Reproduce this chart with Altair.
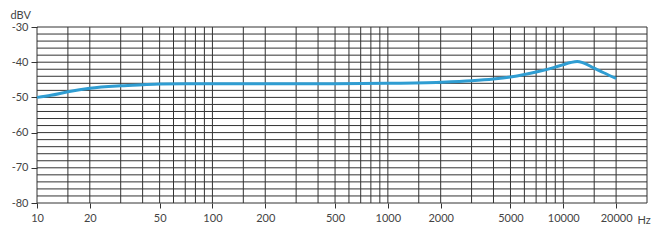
import altair as alt
import pandas as pd

# Frequency response curve
freq = [10, 12, 15, 20, 30, 40, 50, 70, 100, 200, 500, 1000, 2000, 3000, 4000,
        5000, 6000, 7000, 8000, 9000, 10000, 11000, 12000, 13000, 15000, 17000, 20000]
dbv = [-50.0, -49.4, -48.4, -47.4, -46.7, -46.4, -46.2, -46.1, -46.1, -46.1, -46.1,
       -46.0, -45.7, -45.3, -44.8, -44.2, -43.5, -42.8, -42.1, -41.4, -40.7, -40.1,
       -39.8, -40.2, -41.7, -43.0, -44.6]

x_grid = [10, 15, 20, 30, 40, 50, 60, 70, 80, 90,
          100, 150, 200, 300, 400, 500, 600, 700, 800, 900,
          1000, 1500, 2000, 3000, 4000, 5000, 6000, 7000, 8000, 9000,
          10000, 15000, 20000, 30000]
y_grid = list(range(-80, -29, 2))
x_labels = [10, 20, 50, 100, 200, 500, 1000, 2000, 5000, 10000, 20000]
y_labels = [-30, -40, -50, -60, -70, -80]

FONT = "Lato"
TXT = "#444444"
GRID = "#333333"

xscale = alt.Scale(type="log", domain=[10, 30000])
yscale = alt.Scale(domain=[-80, -30])

xaxis = alt.Axis(values=x_labels, grid=False, domain=False,
                 labelExpr="toString(datum.value)",
                 tickSize=5, tickColor=GRID, labelPadding=4,
                 labelFont=FONT, labelFontSize=11, labelColor=TXT,
                 labelFlush=False, labelOverlap=False,
                 title="Hz", titleFont=FONT, titleFontSize=11,
                 titleFontWeight="normal", titleColor=TXT,
                 titleX=600, titleY=20, titleAlign="left",
                 titleBaseline="alphabetic")
yaxis = alt.Axis(values=y_labels, grid=False, domain=False,
                 labelExpr="toString(datum.value)",
                 tickSize=6, tickColor=GRID, labelPadding=3,
                 labelFont=FONT, labelFontSize=11, labelColor=TXT,
                 labelFlush=False, labelOverlap=False,
                 title="dBV", titleFont=FONT, titleFontSize=11,
                 titleFontWeight="normal", titleColor=TXT,
                 titleAngle=0, titleX=-27, titleY=-12,
                 titleAlign="left", titleBaseline="middle")

curve_df = pd.DataFrame({"f": freq, "db": dbv})
xg_df = pd.DataFrame({"f": x_grid})
yg_df = pd.DataFrame({"db": y_grid})

vgrid = alt.Chart(xg_df).mark_rule(color=GRID, strokeWidth=1).encode(
    x=alt.X("f:Q", scale=xscale, axis=xaxis),
)
hgrid = alt.Chart(yg_df).mark_rule(color=GRID, strokeWidth=1).encode(
    y=alt.Y("db:Q", scale=yscale, axis=yaxis),
)

line = alt.Chart(curve_df).mark_line(
    color="#2f9dd2", strokeWidth=3, interpolate="monotone"
).encode(
    x=alt.X("f:Q", scale=xscale, axis=xaxis),
    y=alt.Y("db:Q", scale=yscale, axis=yaxis),
)

chart = alt.layer(vgrid, hgrid, line).properties(
    width=610, height=176,
    autosize=alt.AutoSizeParams(type="none"),
    padding={"left": 37, "top": 27, "right": 11, "bottom": 39},
    background="white",
).configure_view(stroke=None)

chart.save("out.html", embed_options={"renderer": "svg", "actions": False})
